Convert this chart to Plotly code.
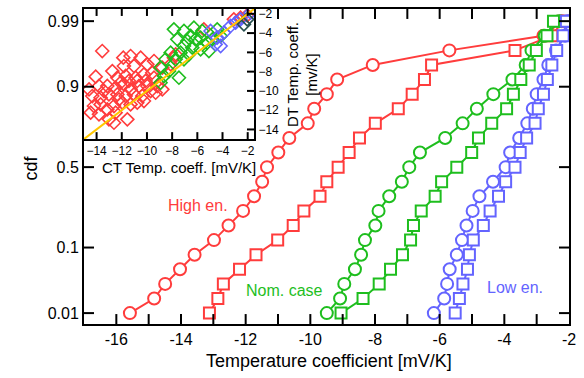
import plotly.graph_objects as go
from statistics import NormalDist

# ---------------- data ----------------
cdf_levels = [0.01, 0.01815, 0.0314, 0.0517, 0.0814, 0.1224, 0.1761, 0.2427, 0.3209, 0.4080,
              0.5, 0.5920, 0.6791, 0.7573, 0.8239, 0.8776, 0.9186, 0.9483, 0.9686, 0.98185, 0.99]

high_circ = [-15.58, -14.83, -14.49, -14.03, -13.58, -12.98, -12.53, -12.08, -11.74, -11.49, -11.34,
             -10.99, -10.65, -10.08, -9.88, -9.49, -9.17, -8.07, -5.70, -2.79, -2.22]
high_sq = [-13.12, -12.86, -12.69, -12.19, -11.68, -11.01, -10.53, -10.20, -9.70, -9.49, -9.14,
           -8.80, -8.48, -7.99, -7.28, -6.85, -6.47, -6.25, -3.67, -2.53, -2.19]
nom_circ = [-9.49, -9.08, -8.95, -8.62, -8.43, -8.31, -7.99, -7.89, -7.56, -7.17, -6.94,
            -6.61, -5.83, -5.29, -4.85, -4.34, -3.75, -3.34, -3.16, -2.75, -2.30]
nom_sq = [-9.05, -8.37, -7.87, -7.52, -7.15, -6.90, -6.81, -6.57, -6.14, -5.94, -5.47,
          -5.01, -4.80, -4.39, -3.93, -3.72, -3.49, -3.23, -3.01, -2.68, -2.48]
low_circ = [-6.18, -5.86, -5.77, -5.69, -5.47, -5.31, -5.17, -4.98, -4.77, -4.35, -3.96,
            -3.82, -3.54, -3.29, -3.12, -3.00, -2.79, -2.64, -2.40, -2.12, -2.05]
low_sq = [-5.52, -5.39, -5.28, -5.14, -5.08, -4.96, -4.65, -4.44, -4.18, -3.96, -3.67,
          -3.51, -3.31, -3.05, -2.95, -2.79, -2.67, -2.53, -2.38, -2.18, -2.08]

cdf_ticks = [0.01, 0.1, 0.5, 0.9, 0.99]
cdf_tick_labels = ["0.01", "0.1", "0.5", "0.9", "0.99"]
x_ticks = list(range(-17, -1))
x_tick_labels = [str(v) if v % 2 == 0 else "" for v in x_ticks]

inset_ticks = [-14, -12, -10, -8, -6, -4, -2]

# inset scatter: CT (x) vs DT (y) temperature coefficients
in_red_ct = [-13.55, -11.88, -11.30, -10.50, -14.07, -11.83, -11.03, -9.97, -9.44, -8.78, -9.58, -12.75,
             -12.35, -11.69, -10.90, -10.24, -9.44, -14.60, -13.81, -13.15, -12.49, -11.83, -11.30,
             -10.63, -9.97, -9.18, -8.78, -14.34, -13.68, -13.02, -12.35, -11.69, -11.03, -10.37,
             -9.71, -9.31, -14.47, -13.81, -13.15, -12.62, -11.96, -11.30, -10.77, -13.02, -12.62,
             -11.56, -13.68, -5.48, -7.86, -8.12, -7.72, -3.10, -2.57, -2.04, -12.09, -11.43,
             -10.77, -13.41, -10.11, -12.22, -10.24, -14.21, -12.49]
in_red_dt = [-5.86, -6.55, -6.38, -6.55, -8.52, -7.42, -7.42, -7.24, -6.90, -7.59, -8.11, -7.94,
             -8.63, -8.45, -8.63, -8.28, -8.63, -9.84, -9.49, -9.49, -9.67, -9.32, -9.84,
             -9.49, -9.49, -9.49, -9.84, -10.53, -10.70, -10.36, -10.36, -10.53, -10.36, -10.53,
             -10.01, -10.19, -12.26, -12.43, -11.92, -11.57, -11.22, -11.40, -11.22, -12.95, -13.30,
             -12.95, -11.40, -3.61, -6.55, -7.24, -6.21, -2.57, -2.40, -2.16, -9.15, -8.97,
             -8.97, -10.01, -8.97, -10.88, -11.05, -11.57, -12.26]
in_green_ct = [-7.86, -7.06, -6.27, -5.61, -7.59, -6.80, -6.14, -5.74, -7.06, -6.40, -5.74, -5.08,
               -8.12, -7.33, -6.67, -8.52, -7.72, -7.06, -8.92, -8.25, -8.92, -4.42, -4.15, -4.81,
               -5.21, -8.65, -7.46, -6.53]
in_green_dt = [-3.61, -3.78, -3.44, -3.78, -4.65, -4.82, -4.65, -4.48, -5.34, -5.51, -5.69, -5.86,
               -6.03, -6.03, -6.21, -6.72, -6.72, -6.72, -7.59, -7.94, -9.15, -3.61, -4.30, -4.65,
               -4.99, -8.46, -8.63, -4.30]
in_blue_ct = [-4.95, -4.42, -3.89, -3.36, -2.96, -2.57, -4.55, -4.15, -1.77]
in_blue_dt = [-3.78, -4.48, -3.96, -3.26, -2.92, -2.57, -5.17, -5.34, -1.88]
in_dark_ct = [-2.30, -2.04]
in_dark_dt = [-3.09, -2.57]
ref_line = [-15, -1.5]

# ---------------- styling / geometry ----------------
RED = "rgb(255,60,60)"
GREEN = "rgb(30,190,30)"
BLUE = "rgb(100,100,255)"
FONT = "Liberation Sans, Arial, sans-serif"
PLOT_W, PLOT_H = 485, 317          # plot-area size, px
XR = [-17, -2]
ZR = [-2.5, 2.52]
IR = [-15, -1.5]
INSET_DX = [0, 0.3505]
INSET_DY = [0.587, 1.0]

nd = NormalDist()
zc = [nd.inv_cdf(p) for p in cdf_levels]
ztick = [nd.inv_cdf(p) for p in cdf_ticks]

fig = go.Figure()


def series(xs, color, symbol, size):
    fig.add_trace(go.Scatter(
        x=xs, y=zc, mode="lines+markers",
        line=dict(color=color, width=2),
        marker=dict(symbol=symbol, size=size, color="white",
                    line=dict(color=color, width=2)),
        xaxis="x", yaxis="y", showlegend=False))


series(high_circ, RED, "circle", 12)
series(high_sq, RED, "square", 11)
series(nom_circ, GREEN, "circle", 12)
series(nom_sq, GREEN, "square", 11)
series(low_circ, BLUE, "circle", 12)
series(low_sq, BLUE, "square", 11)


def inset(xs, ys, color):
    fig.add_trace(go.Scatter(
        x=xs, y=ys, mode="markers",
        marker=dict(symbol="diamond-open", size=10, color=color,
                    line=dict(color=color, width=1.6)),
        xaxis="x2", yaxis="y2", showlegend=False))


inset(in_red_ct, in_red_dt, RED)
inset(in_green_ct, in_green_dt, GREEN)
inset(in_blue_ct, in_blue_dt, BLUE)
inset(in_dark_ct, in_dark_dt, "rgb(40,80,80)")
fig.add_trace(go.Scatter(x=ref_line, y=ref_line, mode="lines",
                         line=dict(color="rgb(255,200,0)", width=2),
                         xaxis="x2", yaxis="y2", showlegend=False))

# ---- inward tick marks, drawn as line traces (native ticks vanish with an overlapping inset) ----
ppx = PLOT_W / (XR[1] - XR[0])
ppy = PLOT_H / (ZR[1] - ZR[0])
iw = PLOT_W * (INSET_DX[1] - INSET_DX[0])
ih = PLOT_H * (INSET_DY[1] - INSET_DY[0])
ppx2 = iw / (IR[1] - IR[0])
ppy2 = ih / (IR[1] - IR[0])
TL, TLI = 10, 7

tx, ty = [], []
for v in x_ticks[1:-1]:
    tx += [v, v, None]
    ty += [ZR[0], ZR[0] + TL / ppy, None]
    if v > -11.7:
        tx += [v, v, None]
        ty += [ZR[1], ZR[1] - TL / ppy, None]
for zt in ztick:
    if zt < 1:
        tx += [XR[0], XR[0] + TL / ppx, None]
        ty += [zt, zt, None]
    tx += [XR[1], XR[1] - TL / ppx, None]
    ty += [zt, zt, None]
fig.add_trace(go.Scatter(x=tx, y=ty, mode="lines", line=dict(color="black", width=2),
                         hoverinfo="skip", showlegend=False, cliponaxis=False,
                         xaxis="x", yaxis="y"))

ix, iy = [], []
for v in inset_ticks:
    ix += [v, v, None, v, v, None, IR[1], IR[1] - TLI / ppx2, None]
    iy += [IR[0], IR[0] + TLI / ppy2, None, IR[1], IR[1] - TLI / ppy2, None, v, v, None]
# main cdf ticks (0.9, 0.99) that sit on the inset's left edge
z_in0 = ZR[0] + INSET_DY[0] * (ZR[1] - ZR[0])
for zt in ztick:
    if zt > 1:
        yv = IR[0] + (zt - z_in0) * ppy / ppy2
        ix += [IR[0], IR[0] + TL / ppx2, None]
        iy += [yv, yv, None]
fig.add_trace(go.Scatter(x=ix, y=iy, mode="lines", line=dict(color="black", width=2),
                         hoverinfo="skip", showlegend=False, cliponaxis=False,
                         xaxis="x2", yaxis="y2"))

axis_common = dict(showline=True, linecolor="black", linewidth=2, ticks="",
                   showgrid=False, zeroline=False, mirror=True)

fig.update_layout(
    width=584, height=378,
    margin=dict(l=84, r=15, t=7, b=54),
    paper_bgcolor="white", plot_bgcolor="white",
    font=dict(family=FONT, color="black", size=16),
    xaxis=dict(range=XR, tickvals=x_ticks, ticktext=x_tick_labels,
               tickfont=dict(size=16), **axis_common),
    yaxis=dict(range=ZR, tickvals=ztick, ticktext=cdf_tick_labels,
               tickfont=dict(size=16), **axis_common),
    xaxis2=dict(domain=INSET_DX, anchor="y2", range=IR, tickvals=inset_ticks,
                tickfont=dict(size=12), **axis_common),
    yaxis2=dict(domain=INSET_DY, anchor="x2", side="right", range=IR,
                tickvals=inset_ticks, tickfont=dict(size=12), **axis_common),
)

ann = [
    dict(text="High en.", x=-13.47, y=-0.617, xref="x", yref="y", font=dict(color=RED, size=16)),
    dict(text="Nom. case", x=-10.81, y=-1.962, xref="x", yref="y", font=dict(color=GREEN, size=16)),
    dict(text="Low en.", x=-3.67, y=-1.915, xref="x", yref="y", font=dict(color=BLUE, size=16)),
    dict(text="cdf", x=-0.109, y=0.494, xref="paper", yref="paper", textangle=-90,
         font=dict(size=18)),
    dict(text="Temperature coefficient [mV/K]", x=0.505, y=-0.117, xref="paper", yref="paper",
         font=dict(size=18)),
    dict(text="CT Temp. coeff. [mV/K]", x=0.196, y=0.498, xref="paper", yref="paper",
         font=dict(size=15)),
    dict(text="DT Temp. coeff.<br>[mv/K]", x=0.4505, y=0.792, xref="paper", yref="paper",
         textangle=-90, font=dict(size=15)),
]
for a in ann:
    fig.add_annotation(showarrow=False, xanchor="center", yanchor="middle", **a)

fig.write_html("out.html")
